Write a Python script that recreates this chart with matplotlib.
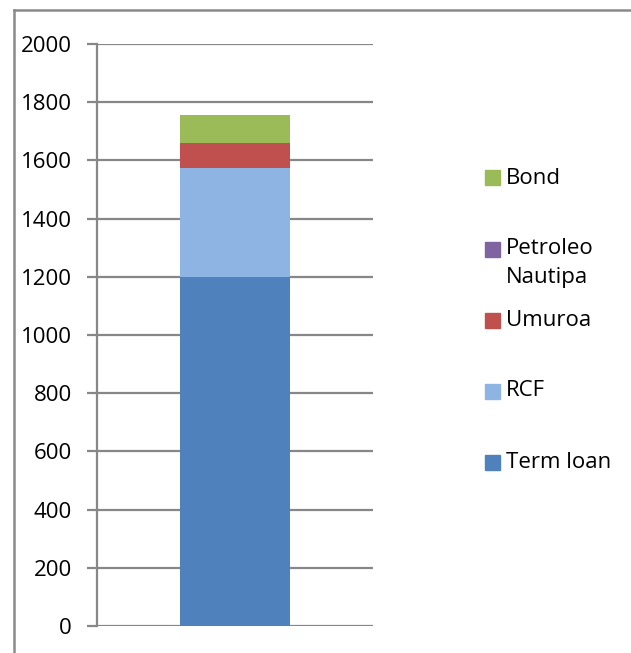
import matplotlib.pyplot as plt
from matplotlib.lines import Line2D
from matplotlib.patches import Rectangle

plt.rcParams['font.family'] = ['Open Sans', 'DejaVu Sans']

# stack order bottom -> top
series = ["Term loan", "RCF", "Umuroa", "Petroleo\nNautipa", "Bond"]
values = [1200, 375, 85, 0, 95]
colors = ["#4f81bd", "#8eb4e3", "#c0504d", "#8064a2", "#9bbb59"]
yticks = [0, 200, 400, 600, 800, 1000, 1200, 1400, 1600, 1800, 2000]

W, H = 631, 653
fig = plt.figure(figsize=(W / 100, H / 100), dpi=100)
ax = fig.add_axes([97 / W, 1 - 626 / H, 276 / W, 582 / H])

grid_c = "#878787"
bottom = 0
for name, v, c in zip(series, values, colors):
    ax.bar(0, v, width=0.402, bottom=bottom, color=c, label=name, zorder=3)
    bottom += v

ax.set_xlim(-0.5, 0.5)
ax.set_ylim(0, 2000)
ax.set_yticks(yticks)
ax.set_xticks([])
for y in yticks:
    ax.axhline(y, color=grid_c, lw=1.6, zorder=1)
for s in ["top", "right", "bottom"]:
    ax.spines[s].set_visible(False)
ax.spines["left"].set_color(grid_c)
ax.spines["left"].set_linewidth(1.6)
ax.tick_params(axis="y", length=7, width=1.6, color=grid_c, labelsize=16, pad=11)

# legend, top entry = top of stack; handle aligned with first text line
for i, (name, c) in enumerate(zip(series[::-1], colors[::-1])):
    yc = 178 + 71 * i
    fig.add_artist(Rectangle((485 / W, 1 - (yc + 7.5) / H), 15 / W, 15 / H,
                             color=c, transform=fig.transFigure))
    for k, line in enumerate(name.split("\n")):
        fig.text(506 / W, 1 - (yc + 29 * k) / H, line, fontsize=16,
                 va="center", ha="left")

# outer chart border (top and left only visible)
fig.add_artist(Line2D([14 / W, 14 / W], [0, 1 - 10 / H], color="#8a8a8a", lw=1.8,
                      transform=fig.transFigure))
fig.add_artist(Line2D([14 / W, 1], [1 - 10 / H, 1 - 10 / H], color="#8a8a8a", lw=1.8,
                      transform=fig.transFigure))

fig.savefig("out.png", dpi=100)
